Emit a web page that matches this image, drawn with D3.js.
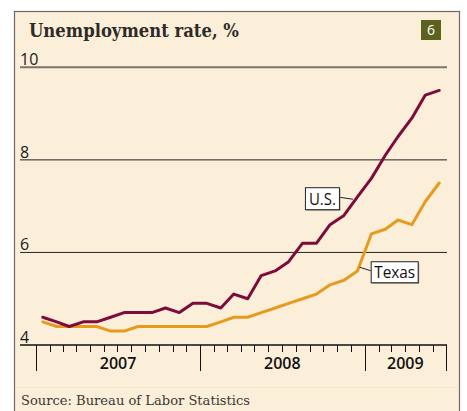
<!DOCTYPE html>
<html>
<head>
<meta charset="utf-8">
<script src="https://cdn.jsdelivr.net/npm/d3@7"></script>
<style>
  html, body { margin: 0; padding: 0; background: #fff; }
  svg { display: block; }
</style>
</head>
<body>
<div id="chart"></div>
<script>
// monthly unemployment rate, Jan 2007 - Jun 2009
const months = d3.range(30).map(i => new Date(2007, i, 16));
const usRate = [4.6, 4.5, 4.4, 4.5, 4.5, 4.6, 4.7, 4.7, 4.7, 4.8, 4.7, 4.9,
                4.9, 4.8, 5.1, 5.0, 5.5, 5.6, 5.8, 6.2, 6.2, 6.6, 6.8, 7.2,
                7.6, 8.1, 8.5, 8.9, 9.4, 9.5];
const texasRate = [4.5, 4.4, 4.4, 4.4, 4.4, 4.3, 4.3, 4.4, 4.4, 4.4, 4.4, 4.4,
                   4.4, 4.5, 4.6, 4.6, 4.7, 4.8, 4.9, 5.0, 5.1, 5.3, 5.4, 5.6,
                   6.4, 6.5, 6.7, 6.6, 7.1, 7.5];
const yTicks = [4, 6, 8, 10];
const years = [2007, 2008, 2009];

const W = 467, H = 411;
const PLOT_LEFT = 36, PLOT_RIGHT = 446;
const GRID_LEFT = 20, GRID_RIGHT = 447;

const svg = d3.select('#chart').append('svg')
    .attr('width', W)
    .attr('height', H);

// panel
svg.append('rect')
    .attr('x', 14.5).attr('y', 11.5)
    .attr('width', 445).attr('height', 410)
    .attr('fill', '#fbefd9')
    .attr('stroke', '#6e6a63')
    .attr('stroke-width', 1.2);

svg.append('line')
    .attr('x1', 15).attr('x2', 459)
    .attr('y1', 387.5).attr('y2', 387.5)
    .attr('stroke', '#f3e6cc');

svg.append('text')
    .attr('x', 29).attr('y', 37)
    .attr('font-family', 'DejaVu Serif')
    .attr('font-weight', 'bold')
    .attr('font-size', 19)
    .attr('fill', '#2d2b28')
    .attr('textLength', 210)
    .attr('lengthAdjust', 'spacingAndGlyphs')
    .text('Unemployment rate, %');

// chart number badge
svg.append('rect')
    .attr('x', 421).attr('y', 20)
    .attr('width', 20).attr('height', 20)
    .attr('fill', '#5c611f');
svg.append('text')
    .attr('x', 431).attr('y', 35)
    .attr('text-anchor', 'middle')
    .attr('font-family', 'Open Sans')
    .attr('font-size', 14)
    .attr('fill', '#fff')
    .text('6');

const x = d3.scaleTime()
    .domain([new Date(2007, 0, 1), new Date(2009, 6, 1)])
    .range([PLOT_LEFT, PLOT_RIGHT]);
const y = d3.scaleLinear()
    .domain([4, 10])
    .range([345, 67.3]);

// grid + y labels
const grid = svg.append('g').attr('class', 'grid');
grid.selectAll('line')
    .data(yTicks.filter(d => d > 4))
    .join('line')
    .attr('x1', GRID_LEFT).attr('x2', GRID_RIGHT)
    .attr('y1', d => y(d)).attr('y2', d => y(d))
    .attr('stroke', d => d === 10 ? '#7a766d' : '#222')
    .attr('stroke-width', d => d === 10 ? 2 : 1);

grid.selectAll('text')
    .data(yTicks)
    .join('text')
    .attr('x', 20)
    .attr('y', d => y(d) - 2)
    .attr('font-family', 'Open Sans')
    .attr('font-size', 16)
    .attr('fill', '#1a1a1a')
    .text(d => d);

// x axis
const axis = svg.append('g').attr('class', 'x axis');
axis.append('line')
    .attr('x1', GRID_LEFT).attr('x2', GRID_RIGHT)
    .attr('y1', y(4)).attr('y2', y(4))
    .attr('stroke', '#111')
    .attr('stroke-width', 1.5);

const tickDates = d3.timeMonth.range(new Date(2007, 0, 1), new Date(2009, 7, 1));
axis.selectAll('line.tick')
    .data(tickDates)
    .join('line')
    .attr('class', 'tick')
    .attr('x1', d => Math.round(x(d)) + 0.5).attr('x2', d => Math.round(x(d)) + 0.5)
    .attr('y1', y(4))
    .attr('y2', d => (d.getMonth() === 0 || +d === +x.domain()[1]) ? 371 : 352)
    .attr('stroke', '#111')
    .attr('stroke-width', 1);

axis.selectAll('text')
    .data(years)
    .join('text')
    .attr('x', d => {
        const a = x(new Date(d, 0, 1));
        const b = Math.min(x(new Date(d + 1, 0, 1)), PLOT_RIGHT);
        return (a + b) / 2;
    })
    .attr('y', 369)
    .attr('text-anchor', 'middle')
    .attr('font-family', 'Open Sans')
    .attr('font-weight', 600)
    .attr('font-size', 16)
    .attr('fill', '#111')
    .text(d => d);

// lines
const line = d3.line()
    .x((d, i) => x(months[i]))
    .y(d => y(d));

const series = [
    {name: 'Texas', values: texasRate, color: '#e69b1f'},
    {name: 'U.S.', values: usRate, color: '#7d0b3c'}
];

svg.append('g').selectAll('path')
    .data(series)
    .join('path')
    .attr('d', d => line(d.values))
    .attr('fill', 'none')
    .attr('stroke', d => d.color)
    .attr('stroke-width', 3)
    .attr('stroke-linejoin', 'round')
    .attr('stroke-linecap', 'round');

// labels: anchor on the line, box offset from it
const labels = [
    {text: 'U.S.', date: new Date(2008, 11, 6), value: 7.15, bx: -48, by: -12, bw: 34, bh: 22, tw: 27},
    {text: 'Texas', date: new Date(2008, 11, 21), value: 5.68, bx: 11, by: -6, bw: 47, bh: 21, tw: 41}
];

const lab = svg.append('g').selectAll('g')
    .data(labels)
    .join('g')
    .attr('transform', d => `translate(${x(d.date)},${y(d.value)})`);

lab.append('line')
    .attr('x1', 0).attr('y1', 0)
    .attr('x2', d => d.bx < 0 ? d.bx + d.bw : d.bx)
    .attr('y2', d => d.by + d.bh / 2 - 1)
    .attr('stroke', '#222')
    .attr('stroke-width', 1);

lab.append('rect')
    .attr('x', d => d.bx + 1.5).attr('y', d => d.by + 1.5)
    .attr('width', d => d.bw).attr('height', d => d.bh)
    .attr('fill', '#9a948a');

lab.append('rect')
    .attr('x', d => d.bx + 0.5).attr('y', d => d.by + 0.5)
    .attr('width', d => d.bw).attr('height', d => d.bh)
    .attr('fill', '#fff')
    .attr('stroke', '#222')
    .attr('stroke-width', 1);

lab.append('text')
    .attr('x', d => d.bx + (d.bw - d.tw) / 2 + 0.5)
    .attr('y', d => d.by + d.bh - 4)
    .attr('font-family', 'Open Sans')
    .attr('font-size', 17)
    .attr('fill', '#111')
    .attr('textLength', d => d.tw)
    .attr('lengthAdjust', 'spacingAndGlyphs')
    .text(d => d.text);

svg.append('text')
    .attr('x', 21).attr('y', 405)
    .attr('font-family', 'DejaVu Serif')
    .attr('font-size', 13.5)
    .attr('fill', '#3a3834')
    .attr('textLength', 229)
    .attr('lengthAdjust', 'spacingAndGlyphs')
    .text('Source: Bureau of Labor Statistics');
</script>
</body>
</html>
